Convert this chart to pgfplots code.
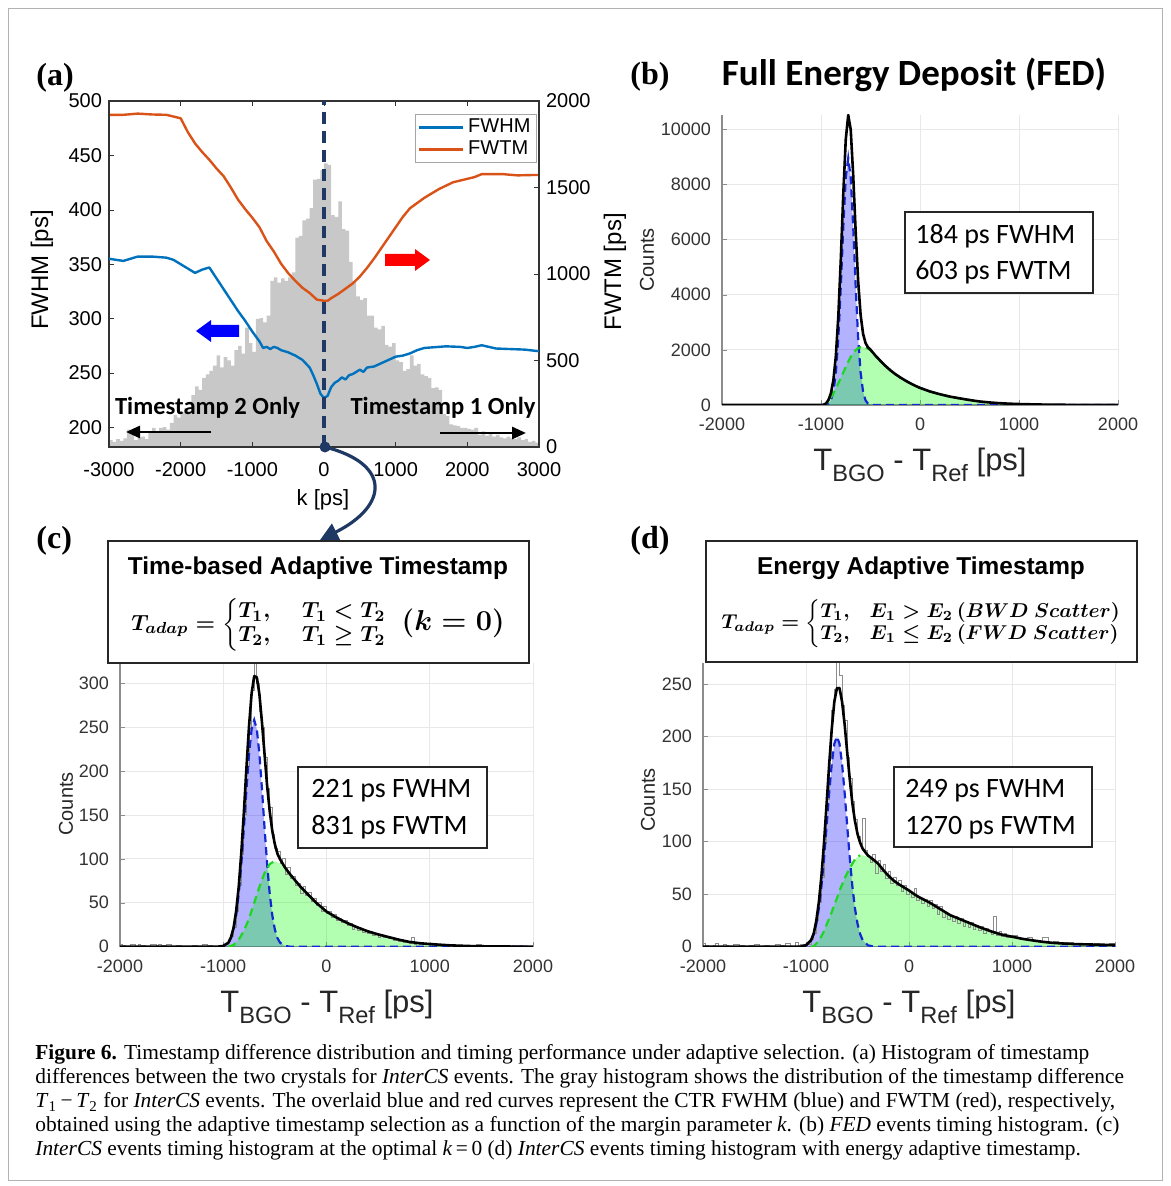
\documentclass[border=0pt]{standalone}
\usepackage{fontspec}
\setmainfont{Liberation Sans}
\newfontfamily\serif{Liberation Serif}
\newfontfamily\calibri{Carlito}
\usepackage{amsmath}
\usepackage{pgfplots}
\pgfplotsset{compat=1.18}
\usetikzlibrary{arrows.meta}

\definecolor{fwhmblue}{RGB}{0,114,189}
\definecolor{fwtmred}{RGB}{217,83,25}
\definecolor{histgray}{RGB}{200,200,200}
\definecolor{navy}{RGB}{31,56,100}
\definecolor{gblue}{RGB}{20,40,210}
\definecolor{ggreen}{RGB}{30,215,30}

\newcommand{\fs}[1]{\fontsize{#1}{#1}\selectfont}
\newcommand{\sub}[1]{\raisebox{-0.33em}{\fs{11.8}#1}}
\newcommand{\tlab}{{\fs{15.5}T\sub{BGO} - T\sub{Ref} [ps]}}
\newcommand{\formC}{{\boldmath\fs{11}\renewcommand{\arraystretch}{1.1}%
  $T_{adap}=\left\{\begin{array}{@{}l@{\hspace{16pt}}l@{}}T_1, & T_1<T_2\\ T_2, & T_1\geq T_2\end{array}\right.$%
  \hspace{7pt}{\fs{13.5}$(k=0)$}}}
\newcommand{\formD}{{\boldmath\fs{10.3}\renewcommand{\arraystretch}{1.1}%
  $T_{adap}=\left\{\begin{array}{@{}l@{\hspace{10pt}}l@{}}T_1, & E_1>E_2\,(BWD\ Scatter)\\ T_2, & E_1\leq E_2\,(FWD\ Scatter)\end{array}\right.$}}

\pgfplotsset{
  tim/.style={scale only axis, anchor=south west, xmin=-2000, xmax=2000, ymin=0,
    axis lines*=left, axis line style={draw=black!45, line width=0.7pt},
    tick style={draw=black!45}, tick align=inside, major tick length=2.5pt,
    grid=major, grid style={draw=black!9, line width=0.4pt},
    xtick={-2000,-1000,0,1000,2000}, scaled ticks=false,
    ticklabel style={font=\fs{9}, text=black!80},
    yticklabel style={xshift=-2pt}, xticklabel style={yshift=-3pt},
    /pgf/number format/1000 sep={}, /pgf/number format/assume math mode=true},
  bfill/.style={draw=none, fill=blue, fill opacity=0.3},
  gfill/.style={draw=none, fill=green, fill opacity=0.3},
  bdash/.style={gblue, line width=1.1pt, dash pattern=on 4pt off 2.5pt},
  gdash/.style={ggreen, line width=1.1pt, dash pattern=on 4pt off 2.5pt},
  fitline/.style={black, line width=1.3pt, line join=round},
  hline/.style={const plot mark left, draw=black!45, line width=0.5pt}
}

\begin{document}
\begin{tikzpicture}
\useasboundingbox (0pt,0pt) rectangle (585pt,593pt);

% ---------------- (a) right axis: histogram + FWTM
\begin{axis}[at={(54.5pt,369.5pt)}, anchor=south west, scale only axis,
  width=215pt, height=173pt, xmin=-3000, xmax=3000, ymin=0, ymax=2000,
  axis x line=none, axis y line*=right, axis line style={black!80, line width=0.6pt},
  ytick={0,500,1000,1500,2000}, tick align=inside, major tick length=2.5pt,
  tick style={black!80}, yticklabel style={font=\fs{10}}, scaled ticks=false,
  /pgf/number format/1000 sep={}, /pgf/number format/assume math mode=true]
\addplot[const plot mark left, fill=histgray, draw=none] coordinates {
(-3000,40) (-2950,30) (-2900,45) (-2850,35) (-2800,50) (-2750,100) (-2700,95) (-2650,40)
(-2600,55) (-2550,60) (-2500,45) (-2450,90) (-2400,110) (-2350,80) (-2300,110) (-2250,115)
(-2200,100) (-2150,140) (-2100,185) (-2050,170) (-2000,200) (-1950,225) (-1900,210) (-1850,300)
(-1800,350) (-1750,330) (-1700,400) (-1650,420) (-1600,440) (-1550,470) (-1500,530) (-1450,460)
(-1400,520) (-1350,500) (-1300,470) (-1250,560) (-1200,585) (-1150,540) (-1100,690) (-1050,600)
(-1000,550) (-950,740) (-900,745) (-850,720) (-800,760) (-750,960) (-700,980) (-650,950)
(-600,975) (-550,960) (-500,980) (-450,1010) (-400,1210) (-350,1220) (-300,1310) (-250,1320)
(-200,1380) (-150,1545) (-100,1550) (-50,1600) (0,1640) (50,1630) (100,1340) (150,1330)
(200,1420) (250,1260) (300,1250) (350,1070) (400,960) (450,870) (500,850) (550,860)
(600,760) (650,760) (700,690) (750,680) (800,700) (850,590) (900,580) (950,600)
(1000,500) (1050,490) (1100,440) (1150,450) (1200,530) (1250,470) (1300,480) (1350,420)
(1400,410) (1450,400) (1500,340) (1550,345) (1600,330) (1650,190) (1700,180) (1750,130)
(1800,125) (1850,120) (1900,110) (1950,110) (2000,105) (2050,100) (2100,110) (2150,70)
(2200,90) (2250,65) (2300,80) (2350,60) (2400,70) (2450,55) (2500,50) (2550,60)
(2600,50) (2650,45) (2700,55) (2750,40) (2800,45) (2850,30) (2900,35) (2950,25) (3000,25)} \closedcycle;
\addplot[fwtmred, line width=1.2pt, line join=round] coordinates {
(-3000,1920) (-2800,1920) (-2600,1927) (-2400,1922) (-2200,1920) (-2000,1900) (-1900,1820)
(-1800,1755) (-1700,1705) (-1600,1660) (-1500,1610) (-1400,1565) (-1300,1500) (-1200,1430)
(-1100,1375) (-1000,1325) (-900,1270) (-800,1190) (-700,1130) (-600,1060) (-500,1005)
(-400,960) (-300,920) (-200,890) (-100,852) (0,845) (50,845) (100,860) (200,885) (300,915)
(400,945) (500,985) (600,1035) (700,1090) (800,1150) (900,1210) (1000,1270) (1100,1330)
(1200,1380) (1300,1410) (1400,1440) (1500,1465) (1600,1490) (1700,1510) (1800,1530)
(1900,1540) (2000,1550) (2100,1560) (2200,1577) (2300,1577) (2500,1577) (2700,1570)
(2900,1572) (3000,1572)};
\end{axis}

% ---------------- (a) left axis: FWHM
\begin{axis}[at={(54.5pt,369.5pt)}, anchor=south west, scale only axis,
  width=215pt, height=173pt, xmin=-3000, xmax=3000, ymin=182, ymax=500,
  xtick={-3000,-2000,...,3000}, ytick={200,250,...,500},
  xtick pos=both, xticklabel pos=bottom, ytick pos=left, scaled ticks=false,
  axis line style={black!80, line width=0.6pt}, tick align=inside, major tick length=2.5pt,
  tick style={black!80}, ticklabel style={font=\fs{10}}, xticklabel style={yshift=-4pt},
  /pgf/number format/1000 sep={}, /pgf/number format/assume math mode=true,
  legend style={at={(0.995,0.963)}, anchor=north east, draw=black!35, fill=white,
    font=\fs{10}, inner xsep=1pt, inner ysep=0.5pt, row sep=-1.5pt},
  legend cell align=left,
  legend image code/.code={\draw[#1] (0pt,0pt) -- (22pt,0pt);}]
\addplot[fwhmblue, line width=1.2pt, line join=round] coordinates {
(-3000,355) (-2900,354) (-2800,353) (-2700,355) (-2600,357) (-2500,357) (-2400,357)
(-2300,356.5) (-2200,356) (-2100,354) (-2000,350) (-1900,346) (-1800,342) (-1700,345)
(-1600,347) (-1500,337) (-1400,327) (-1300,317) (-1200,307) (-1100,298) (-1000,288)
(-900,279) (-850,273) (-800,274) (-750,272) (-700,274) (-650,273) (-600,271) (-500,269)
(-400,266) (-300,262) (-200,255) (-150,248) (-100,240) (-50,231) (0,227) (50,229)
(100,237) (150,241) (200,243) (250,246) (300,244) (350,248) (400,249) (450,251)
(500,253) (550,251) (600,255) (700,256) (800,259) (900,262) (1000,265) (1100,266)
(1200,268) (1300,271) (1400,273) (1500,273.5) (1700,274.5) (1900,274) (2000,273)
(2100,274) (2200,275.5) (2300,274) (2400,272.5) (2600,272) (2800,271.5) (3000,270)};
\addlegendentry{FWHM}
\addlegendimage{fwtmred, line width=1.2pt}
\addlegendentry{FWTM}
\draw[navy, line width=1.6pt, dash pattern=on 6pt off 3.5pt] (axis cs:0,182) -- (axis cs:0,500);
\end{axis}

% ---------------- (b)
\begin{axis}[tim, at={(361pt,390.5pt)}, width=198pt, height=145pt, ymax=10520,
  ytick={0,2000,...,10000}]
\addplot[bfill] coordinates {(-1000,0) (-975,3) (-950,13) (-925,49) (-900,166) (-875,479)
(-850,1173) (-825,2437) (-800,4305) (-775,6465) (-750,8250) (-725,8950) (-700,8250)
(-675,6465) (-650,4305) (-625,2437) (-600,1173) (-575,479) (-550,166) (-525,49) (-500,13)
(-475,3) (-450,0)} \closedcycle;
\addplot[gfill] coordinates {(-1000,0) (-975,5) (-950,40) (-925,130) (-900,260) (-875,420)
(-850,600) (-825,790) (-800,980) (-775,1180) (-750,1380) (-725,1570) (-700,1740)
(-675,1880) (-650,1990) (-625,2060) (-600,2095) (-575,2100) (-550,2080) (-525,2040)
(-500,1990) (-450,1790) (-400,1600) (-350,1420) (-300,1260) (-250,1120) (-200,1000)
(-150,890) (-100,790) (-50,700) (0,620) (100,490) (200,390) (300,305) (400,240) (500,180)
(600,128) (700,92) (800,66) (900,47) (1000,34) (1200,17) (1400,8) (1600,4) (1800,2)
(2000,1)} \closedcycle;
\addplot[bdash] coordinates {(-1000,0) (-975,3) (-950,13) (-925,49) (-900,166) (-875,479)
(-850,1173) (-825,2437) (-800,4305) (-775,6465) (-750,8250) (-725,8950) (-700,8250)
(-675,6465) (-650,4305) (-625,2437) (-600,1173) (-575,479) (-550,166) (-525,49) (-500,13)
(-475,3) (-450,0) (2000,0)};
\addplot[gdash] coordinates {(-1000,0) (-975,5) (-950,40) (-925,130) (-900,260) (-875,420)
(-850,600) (-825,790) (-800,980) (-775,1180) (-750,1380) (-725,1570) (-700,1740)
(-675,1880) (-650,1990) (-625,2060) (-600,2095) (-575,2100) (-550,2080) (-525,2040)
(-500,1990) (-450,1790) (-400,1600) (-350,1420) (-300,1260) (-250,1120) (-200,1000)
(-150,890) (-100,790) (-50,700) (0,620) (100,490) (200,390) (300,305) (400,240) (500,180)};
\addplot[fitline] coordinates {(-2000,0) (-1000,0) (-975,8) (-950,53) (-925,179) (-900,426)
(-875,899) (-850,1773) (-825,3227) (-800,5285) (-775,7645) (-750,9630) (-725,10520)
(-700,9990) (-675,8345) (-650,6295) (-625,4497) (-600,3268) (-575,2579) (-550,2246)
(-525,2089) (-500,2003) (-450,1790) (-400,1600) (-350,1420) (-300,1260) (-250,1120)
(-200,1000) (-150,890) (-100,790) (-50,700) (0,620) (100,490) (200,390) (300,305)
(400,240) (500,180) (600,128) (700,92) (800,66) (900,47) (1000,34) (1200,17) (1400,8)
(1600,4) (1800,2) (2000,1)};
\end{axis}

% ---------------- (c)
\begin{axis}[tim, at={(60pt,119.65pt)}, width=206.5pt, height=141.85pt, ymax=323,
  ytick={0,50,...,300}]
\addplot[bfill] coordinates {(-1050,0) (-1000,0.8) (-950,4.6) (-925,9.8) (-900,19.5)
(-875,35.7) (-850,60.3) (-825,94.1) (-800,135.3) (-775,179.4) (-750,219.6) (-725,247.8)
(-700,258) (-675,247.8) (-650,219.6) (-625,179.4) (-600,135.3) (-575,94.1) (-550,60.3)
(-525,35.7) (-500,19.5) (-475,9.8) (-450,4.6) (-400,0.8) (-350,0)} \closedcycle;
\addplot[gfill] coordinates {(-950,0) (-925,1) (-900,2) (-875,5) (-850,8) (-825,13) (-800,18)
(-775,25) (-750,32) (-725,41) (-700,50) (-675,59) (-650,68) (-625,76) (-600,84) (-575,89)
(-550,94) (-525,96) (-500,97) (-450,95) (-400,89) (-350,82) (-300,75) (-250,68) (-200,62)
(-150,56) (-100,50) (-50,45) (0,40) (100,33) (200,27) (300,22) (400,17.5) (500,14)
(600,11) (700,8) (800,5.5) (900,4) (1000,3) (1200,1.5) (1400,0.7) (1600,0.3) (2000,0)} \closedcycle;
\addplot[hline] coordinates {(-2000,3) (-1975,1) (-1950,0) (-1900,2) (-1850,0) (-1825,3)
(-1800,1) (-1750,0) (-1700,2) (-1675,3) (-1650,1) (-1625,2) (-1600,1) (-1550,2) (-1500,0)
(-1450,1) (-1400,0) (-1300,1) (-1250,0) (-1200,2) (-1150,1) (-1100,0) (-1050,1) (-1000,2)
(-975,3) (-950,6) (-925,12) (-900,22) (-875,40) (-850,70) (-825,105) (-800,150) (-775,205)
(-750,248) (-725,292) (-700,325) (-675,300) (-650,268) (-625,250) (-600,215) (-575,180)
(-550,158) (-525,128) (-500,112) (-475,108) (-450,95) (-425,100) (-400,82) (-375,90)
(-350,78) (-325,80) (-300,70) (-275,72) (-250,60) (-225,68) (-200,58) (-175,62) (-150,52)
(-125,55) (-100,47) (-75,50) (-50,40) (-25,46) (0,38) (25,40) (50,33) (75,37) (100,30)
(125,32) (150,27) (175,30) (200,24) (225,26) (250,20) (275,23) (300,19) (325,21) (350,16)
(375,18) (400,15) (425,17) (450,13) (475,14) (500,11) (525,13) (550,10) (575,12) (600,9)
(625,11) (650,7) (675,9) (700,6) (725,8) (750,5) (775,6) (800,4) (825,10) (850,3) (875,5)
(900,3) (950,2) (1000,3) (1050,1) (1100,2) (1150,1) (1200,1) (1300,0) (1400,1) (1450,2)
(1500,0) (1600,1) (1700,0) (1800,1) (1900,0) (2000,0)};
\addplot[bdash] coordinates {(-1050,0) (-1000,0.8) (-950,4.6) (-925,9.8) (-900,19.5)
(-875,35.7) (-850,60.3) (-825,94.1) (-800,135.3) (-775,179.4) (-750,219.6) (-725,247.8)
(-700,258) (-675,247.8) (-650,219.6) (-625,179.4) (-600,135.3) (-575,94.1) (-550,60.3)
(-525,35.7) (-500,19.5) (-475,9.8) (-450,4.6) (-400,0.8) (-350,0) (2000,0)};
\addplot[gdash] coordinates {(-950,0) (-925,1) (-900,2) (-875,5) (-850,8) (-825,13) (-800,18)
(-775,25) (-750,32) (-725,41) (-700,50) (-675,59) (-650,68) (-625,76) (-600,84) (-575,89)
(-550,94) (-525,96) (-500,97)};
\addplot[fitline] coordinates {(-2000,0) (-1050,0) (-1000,0.8) (-950,4.6) (-925,10.8)
(-900,21.5) (-875,40.7) (-850,68.3) (-825,107.1) (-800,153.3) (-775,204.4) (-750,251.6)
(-725,288.8) (-700,308) (-675,306.8) (-650,287.6) (-625,255.4) (-600,219.3) (-575,183.1)
(-550,154.3) (-525,131.7) (-500,116.5) (-475,105.8) (-450,99.6) (-400,89.8) (-350,82)
(-300,75) (-250,68) (-200,62) (-150,56) (-100,50) (-50,45) (0,40) (100,33) (200,27)
(300,22) (400,17.5) (500,14) (600,11) (700,8) (800,5.5) (900,4) (1000,3) (1200,1.5)
(1400,0.7) (1600,0.3) (2000,0)};
\end{axis}

% ---------------- (d)
\begin{axis}[tim, at={(351.5pt,119.65pt)}, width=206pt, height=141.85pt, ymax=270,
  ytick={0,50,...,250}]
\addplot[bfill] coordinates {(-1050,0) (-1000,1.4) (-950,6.3) (-925,12.1) (-900,21.8)
(-875,36.6) (-850,57.5) (-825,84.1) (-800,114.9) (-775,146.5) (-750,174.2) (-725,193.2)
(-700,200) (-675,193.2) (-650,174.2) (-625,146.5) (-600,114.9) (-575,84.1) (-550,57.5)
(-525,36.6) (-500,21.8) (-475,12.1) (-450,6.3) (-400,1.4) (-350,0.2) (-300,0)} \closedcycle;
\addplot[gfill] coordinates {(-950,0) (-925,0.5) (-900,3) (-875,6) (-850,10) (-825,15)
(-800,21) (-775,27) (-750,33) (-725,40) (-700,46) (-675,53) (-650,59) (-625,65) (-600,70)
(-575,75) (-550,79) (-525,83) (-500,85.5) (-475,87) (-450,87) (-400,85.5) (-350,83)
(-300,79) (-250,73) (-200,67.5) (-150,63) (-100,59.5) (-50,56.5) (0,53.5) (50,50) (100,47)
(200,42) (300,36) (400,30) (500,26) (600,22) (700,18) (800,14.5) (900,11.5) (1000,9.5)
(1100,7.5) (1200,6) (1300,4.6) (1400,3.6) (1500,3) (1600,2.5) (1800,2) (2000,1.6)} \closedcycle;
\addplot[hline] coordinates {(-2000,3) (-1975,1) (-1950,0) (-1900,1) (-1875,3) (-1850,0)
(-1800,2) (-1775,1) (-1750,0) (-1700,2) (-1650,1) (-1600,0) (-1550,1) (-1500,2) (-1450,0)
(-1400,1) (-1350,0) (-1300,2) (-1250,1) (-1200,3) (-1150,0) (-1100,4) (-1075,1) (-1050,2)
(-1000,3) (-975,2) (-950,7) (-925,13) (-900,25) (-875,42) (-850,66) (-825,98) (-800,140)
(-775,180) (-750,225) (-725,245) (-700,272) (-675,258) (-650,230) (-625,215) (-600,180)
(-575,160) (-550,138) (-525,121) (-500,105) (-475,97) (-450,122) (-425,92) (-400,86)
(-375,80) (-350,88) (-325,70) (-300,82) (-275,72) (-250,78) (-225,65) (-200,72) (-175,60)
(-150,66) (-125,58) (-100,63) (-75,53) (-50,58) (-25,50) (0,52) (25,47) (50,55) (75,44)
(100,47) (125,41) (150,45) (175,38) (200,44) (225,36) (250,40) (275,31) (300,38) (325,28)
(350,32) (375,26) (400,30) (425,24) (450,29) (475,22) (500,27) (525,19) (550,24) (575,18)
(600,23) (625,16) (650,20) (675,15) (700,19) (725,13) (750,17) (775,14) (800,12) (825,29)
(850,11) (875,14) (900,10) (925,13) (950,9) (1000,11) (1050,8) (1100,7) (1150,9) (1200,6)
(1250,5) (1300,9) (1350,4) (1400,5) (1450,3) (1500,4) (1600,3) (1700,2) (1800,3) (1850,1)
(1900,2) (1950,3) (2000,2)};
\addplot[bdash] coordinates {(-1050,0) (-1000,1.4) (-950,6.3) (-925,12.1) (-900,21.8)
(-875,36.6) (-850,57.5) (-825,84.1) (-800,114.9) (-775,146.5) (-750,174.2) (-725,193.2)
(-700,200) (-675,193.2) (-650,174.2) (-625,146.5) (-600,114.9) (-575,84.1) (-550,57.5)
(-525,36.6) (-500,21.8) (-475,12.1) (-450,6.3) (-400,1.4) (-350,0.2) (-300,0) (2000,0)};
\addplot[gdash] coordinates {(-950,0) (-925,0.5) (-900,3) (-875,6) (-850,10) (-825,15)
(-800,21) (-775,27) (-750,33) (-725,40) (-700,46) (-675,53) (-650,59) (-625,65) (-600,70)
(-575,75) (-550,79) (-525,83) (-500,85.5) (-475,87)};
\addplot[fitline] coordinates {(-2000,0) (-1050,0) (-1000,1.4) (-950,6.3) (-925,12.6)
(-900,24.8) (-875,42.6) (-850,67.5) (-825,99.1) (-800,135.9) (-775,173.5) (-750,207.2)
(-725,233.2) (-700,246) (-675,246.2) (-650,233.2) (-625,211.5) (-600,184.9) (-575,159.1)
(-550,136.5) (-525,119.6) (-500,107.3) (-475,99.1) (-450,93.3) (-400,86.9) (-350,83.2)
(-300,79) (-250,73) (-200,67.5) (-150,63) (-100,59.5) (-50,56.5) (0,53.5) (50,50) (100,47)
(200,42) (300,36) (400,30) (500,26) (600,22) (700,18) (800,14.5) (900,11.5) (1000,9.5)
(1100,7.5) (1200,6) (1300,4.6) (1400,3.6) (1500,3) (1600,2.5) (1800,2) (2000,1.6)};
\end{axis}

% ---------------- annotations, in image pixels (1 px = 0.5pt, origin bottom left)
\begin{scope}[x=0.5pt,y=0.5pt]
\draw[black!30, line width=0.4pt] (8,6) rectangle (1162,1178);
% (a)
\fill[navy] (325,739) circle (5.5);
\draw[navy, line width=1.6pt, -{Triangle[length=9pt,width=9pt]}]
  (325,739) .. controls (392,722) and (388,680) .. (320,646);
\fill[blue] (239,849) -- (211,849) -- (211,844) -- (196,855) -- (211,866) -- (211,861) -- (239,861) -- cycle;
\fill[red] (385,920) -- (415,920) -- (415,915) -- (430,926) -- (415,937) -- (415,932) -- (385,932) -- cycle;
\node[font=\calibri\bfseries\fs{12.3}] at (207.5,778) {Timestamp 2 Only};
\node[font=\calibri\bfseries\fs{12.3}] at (443,778) {Timestamp 1 Only};
\draw[line width=1.4pt, -{Triangle[length=7pt,width=6pt]}] (211,754) -- (126,754);
\draw[line width=1.4pt, -{Triangle[length=7pt,width=6pt]}] (440,753) -- (526,753);
\node[font=\fs{11}] at (323,686) {k [ps]};
\node[font=\fs{12}, rotate=90] at (42,916) {FWHM [ps]};
\node[font=\fs{12}, rotate=90] at (615,914) {FWTM [ps]};
\node[font=\serif\bfseries\fs{16}, anchor=west, inner sep=0] at (36,1108) {(a)};
% (b)
\node[font=\serif\bfseries\fs{16}, anchor=west, inner sep=0] at (630,1109) {(b)};
\node[font=\calibri\bfseries\fs{18.5}] at (914,1111) {Full Energy Deposit (FED)};
\node[font=\fs{10}, rotate=90, text=black!85] at (647,926) {Counts};
\node[anchor=base, text=black!85] at (920,715) {\tlab};
\draw[black!85, line width=0.6pt, fill=white] (905,974) rectangle (1093,893);
\node[font=\calibri\fs{14}, anchor=base west, inner sep=0] at (915,942) {184 ps FWHM};
\node[font=\calibri\fs{14}, anchor=base west, inner sep=0] at (915,906) {603 ps FWTM};
% (c)
\node[font=\serif\bfseries\fs{16}, anchor=west, inner sep=0] at (36,645) {(c)};
\node[font=\fs{10}, rotate=90, text=black!85] at (66,382) {Counts};
\node[anchor=base, text=black!85] at (327,173) {\tlab};
\draw[black!85, line width=0.6pt, fill=white] (298,419) rectangle (487,338);
\node[font=\calibri\fs{14}, anchor=base west, inner sep=0] at (311,388) {221 ps FWHM};
\node[font=\calibri\fs{14}, anchor=base west, inner sep=0] at (311,351) {831 ps FWTM};
\draw[black!85, line width=0.8pt, fill=white] (108,645) rectangle (529,523);
\node[font=\bfseries\fs{12.2}, anchor=base, inner sep=0] at (318,611) {Time-based Adaptive Timestamp};
\node[inner sep=0] at (318,561) {\formC};
% (d)
\node[font=\serif\bfseries\fs{16}, anchor=west, inner sep=0] at (630,645) {(d)};
\node[font=\fs{10}, rotate=90, text=black!85] at (648,386) {Counts};
\node[anchor=base, text=black!85] at (909,173) {\tlab};
\draw[black!85, line width=0.6pt, fill=white] (894,419) rectangle (1092,339);
\node[font=\calibri\fs{14}, anchor=base west, inner sep=0] at (905,388) {249 ps FWHM};
\node[font=\calibri\fs{14}, anchor=base west, inner sep=0] at (905,351) {1270 ps FWTM};
\draw[black!85, line width=0.8pt, fill=white] (706,645) rectangle (1137,524);
\node[font=\bfseries\fs{12.2}, anchor=base, inner sep=0] at (921,611) {Energy Adaptive Timestamp};
\node[inner sep=0] at (922,562) {\formD};
% caption
\begin{scope}[every node/.style={anchor=base west, inner sep=0, font=\serif\fs{10.7}}]
\node at (35,126) {\textbf{Figure 6.} Timestamp difference distribution and timing performance under adaptive selection. (a) Histogram of timestamp};
\node at (35,102) {differences between the two crystals for \textit{InterCS} events. The gray histogram shows the distribution of the timestamp difference};
\node at (35,78) {\textit{T}\textsubscript{1}\,−\,\textit{T}\textsubscript{2} for \textit{InterCS} events. The overlaid blue and red curves represent the CTR FWHM (blue) and FWTM (red), respectively,};
\node at (35,54) {obtained using the adaptive timestamp selection as a function of the margin parameter \textit{k}. (b) \textit{FED} events timing histogram. (c)};
\node at (35,30) {\textit{InterCS} events timing histogram at the optimal \textit{k}\,=\,0 (d) \textit{InterCS} events timing histogram with energy adaptive timestamp.};
\end{scope}
\end{scope}
\end{tikzpicture}
\end{document}
